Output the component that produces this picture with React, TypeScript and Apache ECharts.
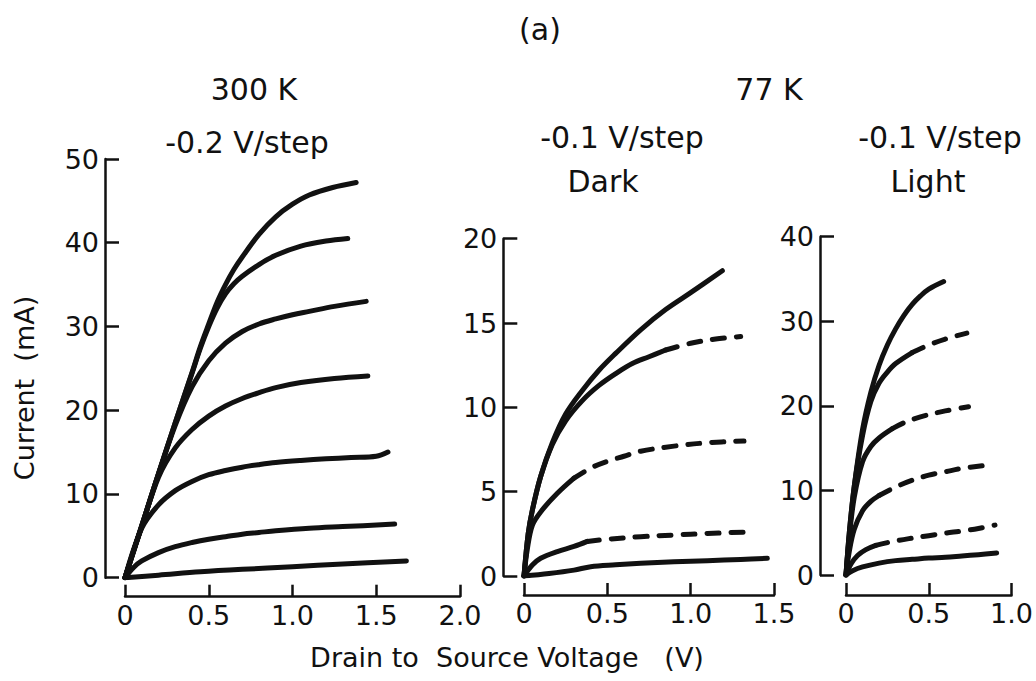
import React, { useEffect, useRef } from "react";
import * as echarts from "echarts";

type Pt = [number, number];

// 300 K, -0.2 V/step, gate steps from top curve to bottom curve  (V, mA)
const room1: Pt[] = [[0, 0], [0.1, 6.2], [0.2, 12.4], [0.3, 18.5], [0.4, 24.5], [0.45, 27.6], [0.5, 30.3], [0.55, 32.9], [0.6, 35.0], [0.65, 36.8], [0.7, 38.3], [0.8, 41.0], [0.9, 43.1], [1.0, 44.6], [1.1, 45.7], [1.24, 46.6], [1.38, 47.2]];
const room2: Pt[] = [[0, 0], [0.1, 6.2], [0.2, 12.4], [0.3, 18.5], [0.4, 24.4], [0.45, 27.4], [0.5, 30.0], [0.55, 32.2], [0.6, 33.9], [0.65, 35.1], [0.7, 36.0], [0.8, 37.4], [0.9, 38.5], [1.05, 39.6], [1.2, 40.2], [1.33, 40.5]];
const room3: Pt[] = [[0, 0], [0.1, 6.2], [0.2, 12.4], [0.3, 18.2], [0.4, 22.8], [0.5, 25.9], [0.6, 28.0], [0.7, 29.4], [0.8, 30.3], [0.9, 30.9], [1.0, 31.4], [1.1, 31.8], [1.25, 32.4], [1.44, 33.0]];
const room4: Pt[] = [[0, 0], [0.1, 6.1], [0.2, 12.0], [0.3, 15.5], [0.4, 17.7], [0.5, 19.3], [0.6, 20.5], [0.7, 21.4], [0.8, 22.1], [0.9, 22.7], [1.05, 23.3], [1.25, 23.8], [1.45, 24.1]];
const room5: Pt[] = [[0, 0], [0.1, 5.9], [0.2, 8.7], [0.3, 10.4], [0.4, 11.5], [0.5, 12.3], [0.6, 12.8], [0.7, 13.2], [0.8, 13.5], [0.9, 13.75], [1.05, 14.0], [1.2, 14.2], [1.35, 14.35], [1.5, 14.5], [1.57, 15.0]];
const room6: Pt[] = [[0, 0], [0.05, 1.2], [0.1, 2.0], [0.2, 3.0], [0.3, 3.7], [0.4, 4.2], [0.5, 4.6], [0.6, 4.9], [0.7, 5.2], [0.8, 5.4], [0.9, 5.6], [1.1, 5.9], [1.3, 6.1], [1.61, 6.4]];
const room7: Pt[] = [[0, 0], [0.2, 0.3], [0.45, 0.7], [0.7, 1.0], [1.0, 1.3], [1.3, 1.65], [1.68, 2.0]];

// 77 K dark, -0.1 V/step
const dark1: Pt[] = [[0, 0], [0.025, 2.5], [0.05, 3.9], [0.1, 5.9], [0.17, 7.9], [0.25, 9.6], [0.35, 11.0], [0.45, 12.2], [0.55, 13.2], [0.7, 14.6], [0.85, 15.8], [1.0, 16.8], [1.19, 18.1]];
const dark2: Pt[] = [[0, 0], [0.025, 2.5], [0.05, 3.9], [0.1, 5.9], [0.17, 7.8], [0.25, 9.2], [0.35, 10.4], [0.45, 11.3], [0.55, 12.0], [0.65, 12.6], [0.75, 13.0], [0.85, 13.4], [1.0, 13.8], [1.15, 14.05], [1.3, 14.2]];
const dark3: Pt[] = [[0, 0], [0.02, 1.6], [0.05, 3.0], [0.1, 3.8], [0.2, 4.9], [0.3, 5.8], [0.4, 6.4], [0.5, 6.8], [0.6, 7.1], [0.7, 7.4], [0.9, 7.7], [1.1, 7.9], [1.32, 8.0]];
const dark4: Pt[] = [[0, 0], [0.05, 0.65], [0.1, 1.05], [0.2, 1.45], [0.3, 1.75], [0.38, 2.05], [0.5, 2.18], [0.7, 2.33], [0.9, 2.43], [1.1, 2.52], [1.32, 2.6]];
const dark5: Pt[] = [[0, 0], [0.15, 0.15], [0.3, 0.35], [0.4, 0.55], [0.55, 0.66], [0.7, 0.75], [0.9, 0.84], [1.1, 0.91], [1.3, 0.98], [1.46, 1.05]];
const darkDashFrom: (number | null)[] = [null, 0.85, 0.3, 0.38, null];

// 77 K light, -0.1 V/step
const light1: Pt[] = [[0, 0], [0.02, 5.0], [0.05, 10.5], [0.1, 17.2], [0.15, 21.6], [0.2, 24.8], [0.25, 27.2], [0.3, 29.1], [0.35, 30.7], [0.4, 32.0], [0.45, 33.0], [0.5, 33.8], [0.59, 34.7]];
const light2: Pt[] = [[0, 0], [0.02, 5.0], [0.05, 10.5], [0.1, 16.5], [0.15, 20.5], [0.2, 22.7], [0.25, 24.0], [0.3, 25.0], [0.4, 26.3], [0.5, 27.2], [0.6, 27.9], [0.73, 28.6]];
const light3: Pt[] = [[0, 0], [0.02, 4.5], [0.05, 9.2], [0.1, 13.4], [0.15, 15.2], [0.2, 16.2], [0.28, 17.3], [0.35, 18.0], [0.45, 18.7], [0.6, 19.4], [0.74, 19.9]];
const light4: Pt[] = [[0, 0], [0.02, 2.8], [0.05, 5.4], [0.1, 7.6], [0.15, 8.7], [0.2, 9.4], [0.3, 10.4], [0.4, 11.2], [0.5, 11.8], [0.6, 12.2], [0.7, 12.6], [0.86, 13.0]];
const light5: Pt[] = [[0, 0], [0.03, 1.3], [0.07, 2.3], [0.12, 3.0], [0.18, 3.5], [0.28, 3.95], [0.38, 4.3], [0.5, 4.65], [0.6, 4.95], [0.7, 5.2], [0.8, 5.5], [0.9, 5.9]];
const light6: Pt[] = [[0, 0], [0.04, 0.5], [0.1, 0.95], [0.2, 1.4], [0.3, 1.7], [0.4, 1.85], [0.5, 2.0], [0.6, 2.1], [0.7, 2.25], [0.8, 2.4], [0.91, 2.6]];
const lightDashFrom: (number | null)[] = [null, 0.4, 0.28, 0.2, 0.18, null];

const roomCurves = [room1, room2, room3, room4, room5, room6, room7];
const darkCurves = [dark1, dark2, dark3, dark4, dark5];
const lightCurves = [light1, light2, light3, light4, light5, light6];

// axis ranges per panel: 300 K, 77 K dark, 77 K light
const xMaxes = [2.0, 1.5, 1.0];
const xStep = 0.5;
const yMaxes = [50, 20, 40];
const ySteps = [10, 5, 10];

const INK = "#111";
const FONT = "'DejaVu Sans', sans-serif";

function curveSeries(curves: Pt[][], dashFrom: (number | null)[], panel: number) {
  const out: any[] = [];
  curves.forEach((pts, i) => {
    const cut = dashFrom[i];
    const base = {
      type: "line",
      xAxisIndex: panel,
      yAxisIndex: panel,
      showSymbol: false,
      symbol: "none",
      smooth: 0.35,
      silent: true,
      z: 3,
    };
    const solid = { color: INK, width: 5, cap: "round", join: "round" };
    if (cut == null) {
      out.push({ ...base, data: pts, lineStyle: solid });
    } else {
      out.push({ ...base, data: pts.filter((p) => p[0] <= cut), lineStyle: solid });
      out.push({
        ...base,
        data: pts.filter((p) => p[0] >= cut),
        lineStyle: { ...solid, type: [12, 12] },
      });
    }
  });
  return out;
}

export default function App() {
  const ref = useRef<HTMLDivElement>(null);

  useEffect(() => {
    if (!ref.current) return;
    const chart = echarts.init(ref.current, null, { renderer: "svg" });

    const grids = [
      { left: 125, top: 159, width: 335, height: 418.7 },
      { left: 524, top: 238.7, width: 250, height: 337.3 },
      { left: 846, top: 236.7, width: 167.3, height: 338.3 },
    ];
    const xOffsets = [19, 19, 20];
    const yOffsets = [20, 20.7, 26];

    const axisLine = { show: true, onZero: false, lineStyle: { color: INK, width: 2.5 } };
    const labelStyle = { color: INK, fontSize: 27, fontFamily: FONT };

    const xAxis = xMaxes.map((max, i) => ({
      type: "value",
      gridIndex: i,
      min: 0,
      max,
      interval: xStep,
      offset: xOffsets[i],
      axisLine,
      axisTick: { show: true, inside: true, length: 12, lineStyle: { color: INK, width: 2.5 } },
      axisLabel: {
        ...labelStyle,
        margin: 5,
        showMinLabel: true,
        showMaxLabel: true,
        formatter: (v: number) => (v === 0 ? "0" : v.toFixed(1)),
      },
      splitLine: { show: false },
    }));

    const yAxis = yMaxes.map((max, i) => ({
      type: "value",
      gridIndex: i,
      min: 0,
      max,
      interval: ySteps[i],
      offset: yOffsets[i],
      axisLine,
      axisTick: { show: true, inside: true, length: 14, lineStyle: { color: INK, width: 2.5 } },
      axisLabel: { ...labelStyle, margin: 6, showMinLabel: true, showMaxLabel: true },
      splitLine: { show: false },
    }));

    const text = (t: string, x: number, y: number, size: number, rotation = 0) => ({
      type: "text",
      x,
      y,
      rotation,
      silent: true,
      style: {
        text: t,
        fill: INK,
        font: `${size}px ${FONT}`,
        align: "center",
        verticalAlign: "middle",
      },
    });

    chart.setOption({
      animation: false,
      backgroundColor: "#fff",
      grid: grids,
      xAxis,
      yAxis,
      series: [
        ...curveSeries(roomCurves, roomCurves.map(() => null), 0),
        ...curveSeries(darkCurves, darkDashFrom, 1),
        ...curveSeries(lightCurves, lightDashFrom, 2),
      ],
      graphic: [
        text("(a)", 540, 29, 30),
        text("300 K", 254, 89, 30),
        text("77 K", 769, 89, 30),
        text("-0.2 V/step", 247, 142, 30),
        text("-0.1 V/step", 622, 137, 30),
        text("Dark", 603, 181, 30),
        text("-0.1 V/step", 940, 137, 30),
        text("Light", 928, 181, 30),
        text("Drain to  Source Voltage   (V)", 507, 657, 27),
        text("Current  (mA)", 24, 388, 27, Math.PI / 2),
      ],
    });

    return () => chart.dispose();
  }, []);

  return (
    <div
      ref={ref}
      style={{ position: "fixed", left: 0, top: 0, width: 1036, height: 681, background: "#fff" }}
    />
  );
}
